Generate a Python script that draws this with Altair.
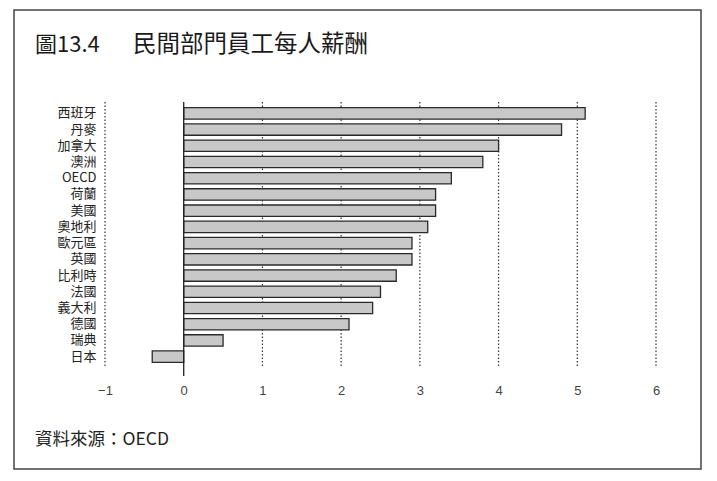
import altair as alt
import pandas as pd

countries = ["西班牙", "丹麥", "加拿大", "澳洲", "OECD", "荷蘭", "美國", "奧地利",
             "歐元區", "英國", "比利時", "法國", "義大利", "德國", "瑞典", "日本"]
values = [5.1, 4.8, 4.0, 3.8, 3.4, 3.2, 3.2, 3.1, 2.9, 2.9, 2.7, 2.5, 2.4, 2.1, 0.5, -0.4]
x_ticks = [-1, 0, 1, 2, 3, 4, 5, 6]
grid_vals = [-1, 1, 2, 3, 4, 5, 6]

title_num = "圖13.4"
title_text = "民間部門員工每人薪酬"
source_text = "資料來源：OECD"

df = pd.DataFrame({"country": countries, "value": values})
grid_df = pd.DataFrame({"g": grid_vals})
zero_df = pd.DataFrame({"z": [0]})

FONT = "Noto Sans CJK TC"
W, H = 551, 266

xscale = alt.Scale(domain=[-1, 6], nice=False, zero=False)
yscale = alt.Scale(paddingInner=0.3, paddingOuter=0.35)
xaxis = alt.Axis(values=x_ticks, ticks=False, domain=False, grid=False, labelFlush=False,
                 labelFont="Liberation Sans", labelFontSize=13, labelColor="#444444",
                 labelPadding=16, format="d")

grid = alt.Chart(grid_df).mark_rule(color="#333333", strokeWidth=1.2, strokeDash=[1.5, 2]).encode(
    x=alt.X("g:Q", scale=xscale, axis=xaxis, title=None)
)

bars = alt.Chart(df).mark_bar(fill="#c8c8c8", stroke="#2a2a2a", strokeWidth=1.3).encode(
    y=alt.Y("country:N", sort=countries, scale=yscale, title=None,
            axis=alt.Axis(ticks=False, domain=False, labelFont=FONT, labelFontSize=13,
                          labelColor="#222222", labelPadding=9)),
    x=alt.X("value:Q", scale=xscale, title=None, axis=xaxis),
)

zero = alt.Chart(zero_df).mark_rule(color="#222222", strokeWidth=1.3).encode(
    x=alt.X("z:Q", scale=xscale, axis=xaxis, title=None), y=alt.value(0), y2=alt.value(H + 8)
)

border = alt.Chart(zero_df).mark_rect(fill=None, stroke="#444444", strokeWidth=1.5).encode(
    x=alt.value(-91), x2=alt.value(596), y=alt.value(-92), y2=alt.value(367)
)

title1 = alt.Chart(zero_df).mark_text(
    text=title_num, font=FONT, fontSize=22, align="left", baseline="middle", color="#1a1a1a"
).encode(x=alt.value(-70), y=alt.value(-57))

title2 = alt.Chart(zero_df).mark_text(
    text=title_text, font=FONT, fontSize=23.5, align="left", baseline="middle", color="#1a1a1a"
).encode(x=alt.value(28), y=alt.value(-57))

source = alt.Chart(zero_df).mark_text(
    text=source_text, font=FONT, fontSize=17.5, align="left", baseline="middle", color="#222222"
).encode(x=alt.value(-70), y=alt.value(338))

chart = alt.layer(border, grid, bars, zero, title1, title2, source).properties(
    width=W, height=H,
    padding={"left": 97, "top": 94, "right": 50, "bottom": 105},
    autosize=alt.AutoSizeParams(type="none"),
    background="white",
).configure_view(stroke=None)

chart.save("out.html", embed_options={"renderer": "svg", "actions": False})
